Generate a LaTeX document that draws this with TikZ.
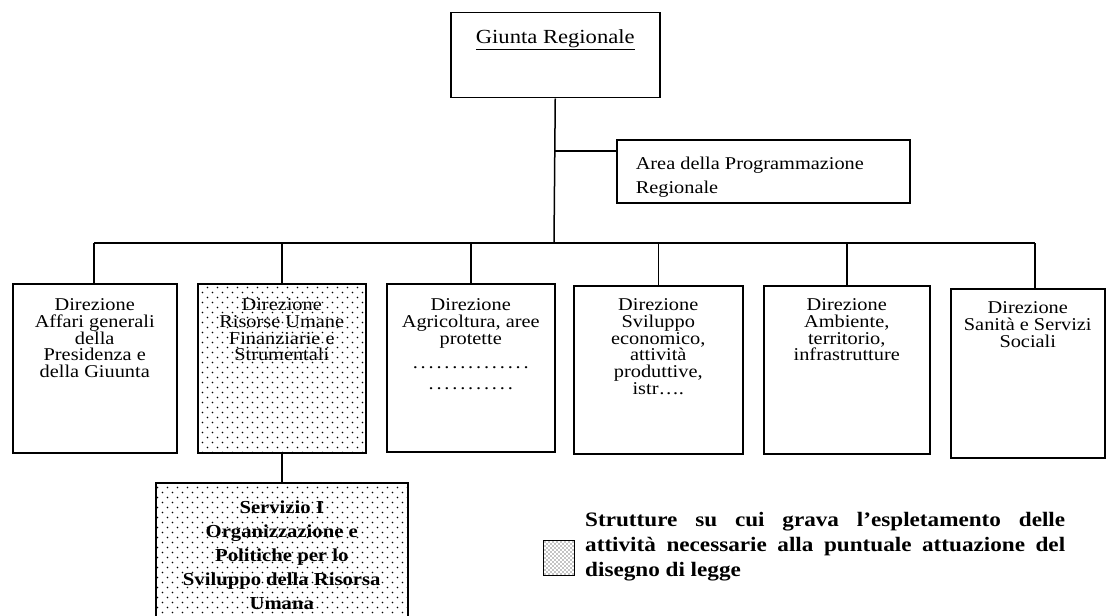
\documentclass[tikz,border=0pt]{standalone}
\usepackage{fontspec}
\setmainfont{Liberation Serif}[FakeStretch=1.13]
\usetikzlibrary{patterns}

% retino a puntini delle strutture coinvolte
\pgfdeclarepatternformonly{radi}{\pgfqpoint{-1pt}{-1pt}}{\pgfqpoint{11pt}{11pt}}{\pgfqpoint{10pt}{10pt}}{%
  \pgfpathcircle{\pgfqpoint{2.5pt}{2.5pt}}{0.85pt}%
  \pgfpathcircle{\pgfqpoint{7.5pt}{7.5pt}}{0.85pt}%
  \pgfusepath{fill}}
\pgfdeclarepatternformonly{fitti}{\pgfqpoint{-1pt}{-1pt}}{\pgfqpoint{5pt}{5pt}}{\pgfqpoint{4pt}{4pt}}{%
  \pgfpathcircle{\pgfqpoint{1pt}{1pt}}{0.7pt}%
  \pgfpathcircle{\pgfqpoint{3pt}{3pt}}{0.7pt}%
  \pgfusepath{fill}}

% testo centrato in alto in una casella di altezza fissa
\newcommand{\riquadro}[4]{\parbox[c][#1][t]{#2}{\centering\vspace*{#3}#4}}
% riga della legenda giustificata
\newcommand{\rigaleg}[1]{\makebox[480pt][s]{#1}}

\begin{document}
\begin{tikzpicture}[x=1pt,y=-1pt,
  casella/.style={draw, line width=1.5pt, inner sep=0pt, anchor=north west,
    font=\fontsize{18}{16.7}\selectfont},
  linea/.style={line width=1.5pt}]
\useasboundingbox (0,0) rectangle (1107,615);

% vertice
\node[casella, font=\fontsize{20}{22}\selectfont] (giunta) at (450,12)
  {\riquadro{85pt}{209pt}{17pt}{\underline{Giunta Regionale}}};
\node[casella, font=\fontsize{18}{24}\selectfont] (area) at (616,139)
  {\parbox[c][63pt][t]{293pt}{\raggedright\leftskip=19pt\vspace*{17pt}Area della Programmazione\\Regionale}};

% direzioni
\node[casella] (dir1) at (12,283)
  {\riquadro{169pt}{164pt}{15pt}{Direzione\\Affari generali\\della\\Presidenza e\\della Giuunta}};
\node[casella, pattern=radi] (dir2) at (197,283)
  {\riquadro{169pt}{168pt}{15pt}{Direzione\\Risorse Umane\\Finanziarie e\\Strumentali}};
\node[casella] (dir3) at (386,283)
  {\riquadro{168pt}{168pt}{15pt}{Direzione\\Agricoltura, aree\\protette\\[8pt]\makebox[125pt]{\dotfill}\\[4pt]\makebox[88pt]{\dotfill}}};
\node[casella] (dir4) at (573,285)
  {\riquadro{168pt}{169pt}{13pt}{Direzione\\Sviluppo\\economico,\\attività\\produttive,\\istr….}};
\node[casella] (dir5) at (763,285)
  {\riquadro{168pt}{166pt}{13pt}{Direzione\\Ambiente,\\territorio,\\infrastrutture}};
\node[casella] (dir6) at (950,288)
  {\riquadro{169pt}{154pt}{13pt}{Direzione\\Sanità e Servizi\\Sociali}};

% servizio
\node[casella, pattern=radi, font=\bfseries\fontsize{18.3}{24}\selectfont] (serv) at (155,482)
  {\riquadro{150pt}{252pt}{18pt}{Servizio I\\Organizzazione e\\Politiche per lo\\Sviluppo della Risorsa\\Umana}};

% legenda
\node[draw, line width=1pt, pattern=fitti, minimum width=31pt, minimum height=35pt, anchor=north west] (campione) at (543,540) {};
\node[anchor=north west, inner sep=0pt, align=left,
  font=\bfseries\fontsize{20.5}{25}\selectfont] (legenda) at (585,512)
  {\rigaleg{Strutture su cui grava l’espletamento delle}\\
   \rigaleg{attività necessarie alla puntuale attuazione del}\\
   disegno di legge};

% collegamenti
\coordinate (ramo) at (554,151);
\coordinate (barra) at (554,243);
\draw[linea] (giunta.south) -- (barra);
\draw[line width=2.2pt] (ramo) -- (ramo -| area.west);
\draw[linea] (94,243) coordinate (b1) -- (1035,243) coordinate (b6);
\draw[linea] (b1) -- (b1 |- dir1.north);
\draw[linea] (barra -| dir2.north) -- (dir2.north);
\draw[linea] (barra -| dir3.north) -- (dir3.north);
\draw[linea] (barra -| dir4.north) -- (dir4.north);
\draw[linea] (barra -| dir5.north) -- (dir5.north);
\draw[linea] (b6) -- (b6 |- dir6.north);
\draw[linea] (dir2.south) -- (dir2.south |- serv.north);
\end{tikzpicture}
\end{document}
